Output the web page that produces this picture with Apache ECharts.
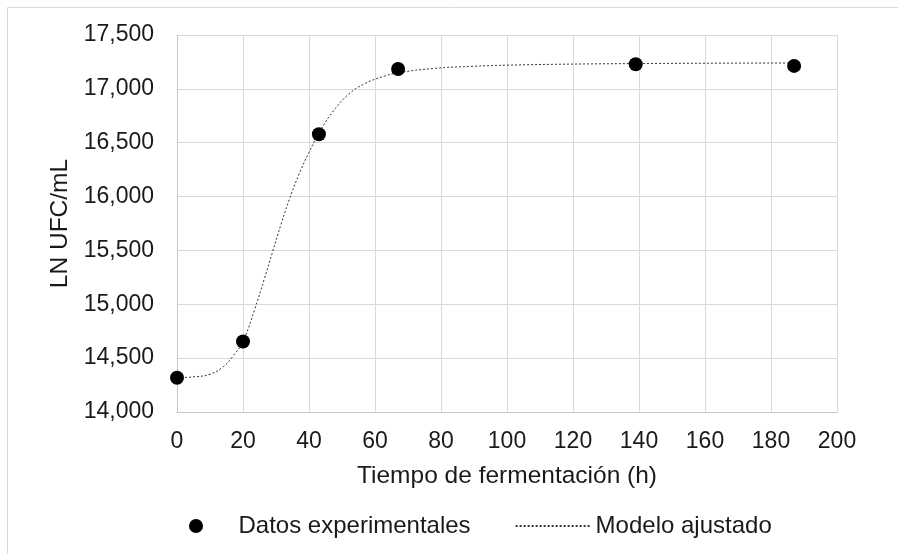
<!DOCTYPE html>
<html>
<head>
<meta charset="utf-8">
<script src="https://cdn.jsdelivr.net/npm/echarts@6/dist/echarts.min.js"></script>
<style>
  html, body { margin: 0; padding: 0; background: #fff; }
  #chart { width: 898px; height: 554px; }
</style>
</head>
<body>
<div id="chart"></div>
<script>
// Experimental measurements: fermentation time (h) vs LN UFC/mL
const timeHours = [0, 20, 43, 67, 139, 187];
const lnUfc = [14.318, 14.655, 16.578, 17.185, 17.228, 17.213];

// Fitted growth model, sampled along the curve
const modelTime = [0, 5, 10, 14, 17, 20, 23.5, 26.5, 29, 31.5, 34, 37, 40, 43, 47, 52, 57, 63, 67, 78, 90, 100, 120, 140, 160, 187];
const modelLn = [14.318, 14.326, 14.35, 14.42, 14.52, 14.655, 14.95, 15.24, 15.49, 15.74, 15.97, 16.21, 16.41, 16.59, 16.78, 16.95, 17.05, 17.12, 17.15, 17.19, 17.21, 17.22, 17.23, 17.235, 17.238, 17.24];

// Axis settings
const xMin = 0, xMax = 200, xStep = 20;
const yMin = 14, yMax = 17.5, yStep = 0.5;

const seriesNames = ['Datos experimentales', 'Modelo ajustado'];
const xTitle = 'Tiempo de fermentación (h)';
const yTitle = 'LN UFC/mL';

const FONT = '"Liberation Sans", Arial, sans-serif';
const TEXT = '#1a1a1a';
const FS_TICK = 23;
const FS_TITLE = 24.5;
const FS_LEGEND = 24;

const pairs = (xs, ys) => xs.map((x, i) => [x, ys[i]]);

const chart = echarts.init(document.getElementById('chart'), null, { renderer: 'canvas' });
chart.setOption({
  animation: false,
  backgroundColor: '#fff',
  textStyle: { fontFamily: FONT, color: TEXT },
  graphic: [{
    type: 'rect',
    shape: { x: 7.5, y: 7.5, width: 900, height: 560 },
    style: { fill: 'none', stroke: '#d9d9d9', lineWidth: 1 },
    silent: true,
    z: -1
  }],
  grid: { left: 177, right: 61, top: 35, bottom: 142, containLabel: false },
  xAxis: {
    type: 'value',
    min: xMin, max: xMax, interval: xStep,
    name: xTitle,
    nameLocation: 'middle',
    nameGap: 52,
    nameTextStyle: { fontFamily: FONT, fontSize: FS_TITLE, color: TEXT },
    axisLine: { show: true, lineStyle: { color: '#c6c6c6', width: 1 } },
    axisTick: { show: false },
    axisLabel: { fontFamily: FONT, fontSize: FS_TICK, color: TEXT, margin: 18 },
    splitLine: { show: true, lineStyle: { color: '#d9d9d9', width: 1 } }
  },
  yAxis: {
    type: 'value',
    min: yMin, max: yMax, interval: yStep,
    name: yTitle,
    nameLocation: 'middle',
    nameRotate: 90,
    nameGap: 101,
    nameTextStyle: { fontFamily: FONT, fontSize: FS_TITLE, color: TEXT },
    axisLine: { show: true, lineStyle: { color: '#c6c6c6', width: 1 } },
    axisTick: { show: false },
    axisLabel: {
      fontFamily: FONT, fontSize: FS_TICK, color: TEXT, margin: 23,
      formatter: v => v.toFixed(3).replace('.', ',')
    },
    splitLine: { show: true, lineStyle: { color: '#d9d9d9', width: 1 } }
  },
  legend: {
    left: 184,
    top: 509,
    itemWidth: 75,
    itemHeight: 14,
    itemGap: 44,
    textStyle: { fontFamily: FONT, fontSize: FS_LEGEND, color: TEXT },
    data: [
      { name: seriesNames[0], icon: 'circle', itemStyle: { color: '#000', opacity: 1 } },
      { name: seriesNames[1], itemStyle: { opacity: 0 } }
    ]
  },
  series: [
    {
      name: seriesNames[1],
      type: 'line',
      data: pairs(modelTime, modelLn),
      symbol: 'none',
      smooth: 0.4,
      lineStyle: { color: '#333', width: 1, type: [2, 2] },
      z: 2
    },
    {
      name: seriesNames[0],
      type: 'scatter',
      data: pairs(timeHours, lnUfc),
      symbol: 'circle',
      symbolSize: 14,
      itemStyle: { color: '#000', opacity: 1 },
      z: 3
    }
  ]
});
</script>
</body>
</html>
